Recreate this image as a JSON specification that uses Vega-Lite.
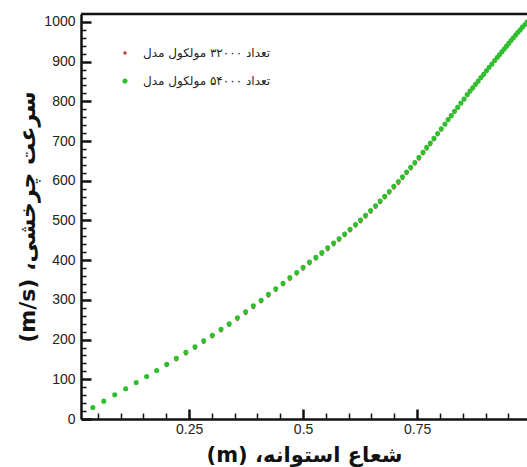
{
  "$schema": "https://vega.github.io/schema/vega-lite/v6.json",
  "width": 446,
  "height": 405,
  "autosize": "none",
  "padding": {"left": 81, "top": 14, "right": 0, "bottom": 48},
  "background": "white",
  "config": {"view": {"stroke": null}},
  "resolve": {"axis": {"y": "independent"}},
  "layer": [
    {
      "data": {"values": [
        {"r":0.039,"a":29,"b":29},{"r":0.063,"a":45,"b":45},{"r":0.087,"a":61,"b":61},{"r":0.111,"a":76,"b":76},
        {"r":0.134,"a":91,"b":92},{"r":0.157,"a":106,"b":107},{"r":0.179,"a":121,"b":122},{"r":0.201,"a":135,"b":138},
        {"r":0.222,"a":149,"b":153},{"r":0.243,"a":164,"b":168},{"r":0.263,"a":178,"b":182},{"r":0.282,"a":193,"b":197},
        {"r":0.301,"a":207,"b":211},{"r":0.320,"a":222,"b":226},{"r":0.338,"a":236,"b":240},{"r":0.356,"a":251,"b":255},
        {"r":0.374,"a":266,"b":270},{"r":0.391,"a":281,"b":285},{"r":0.408,"a":295,"b":299},{"r":0.424,"a":310,"b":314},
        {"r":0.440,"a":324,"b":328},{"r":0.456,"a":338,"b":342},{"r":0.471,"a":352,"b":356},{"r":0.486,"a":365,"b":369},
        {"r":0.500,"a":378,"b":382},{"r":0.514,"a":391,"b":395},{"r":0.528,"a":403,"b":407},{"r":0.541,"a":415,"b":419},
        {"r":0.554,"a":427,"b":431},{"r":0.567,"a":439,"b":443},{"r":0.579,"a":450,"b":454},{"r":0.591,"a":462,"b":466},
        {"r":0.603,"a":474,"b":478},{"r":0.615,"a":486,"b":490},{"r":0.626,"a":497,"b":501},{"r":0.637,"a":509,"b":513},
        {"r":0.648,"a":521,"b":525},{"r":0.659,"a":533,"b":537},{"r":0.669,"a":545,"b":549},{"r":0.679,"a":557,"b":561},
        {"r":0.689,"a":569,"b":573},{"r":0.699,"a":582,"b":586},{"r":0.709,"a":594,"b":598},{"r":0.718,"a":606,"b":610},
        {"r":0.727,"a":618,"b":622},{"r":0.736,"a":630,"b":634},{"r":0.745,"a":642,"b":646},{"r":0.754,"a":655,"b":659},
        {"r":0.763,"a":668,"b":672},{"r":0.771,"a":680,"b":684},{"r":0.779,"a":691,"b":695},{"r":0.787,"a":703,"b":707},
        {"r":0.795,"a":716,"b":719},{"r":0.803,"a":728,"b":731},{"r":0.811,"a":741,"b":743},{"r":0.818,"a":752,"b":754},
        {"r":0.825,"a":762,"b":764},{"r":0.832,"a":773,"b":775},{"r":0.839,"a":783,"b":785},{"r":0.846,"a":794,"b":796},
        {"r":0.853,"a":804,"b":806},{"r":0.860,"a":815,"b":817},{"r":0.866,"a":824,"b":826},{"r":0.872,"a":832,"b":834},
        {"r":0.878,"a":841,"b":843},{"r":0.884,"a":850,"b":851},{"r":0.890,"a":859,"b":860},{"r":0.896,"a":867,"b":868},
        {"r":0.902,"a":876,"b":877},{"r":0.908,"a":885,"b":886},{"r":0.914,"a":893,"b":894},{"r":0.920,"a":902,"b":903},
        {"r":0.926,"a":910,"b":911},{"r":0.931,"a":917,"b":918},{"r":0.936,"a":924,"b":925},{"r":0.941,"a":931,"b":932},
        {"r":0.946,"a":938,"b":939},{"r":0.951,"a":945,"b":946},{"r":0.956,"a":952,"b":953},{"r":0.961,"a":959,"b":960},
        {"r":0.966,"a":966,"b":967},{"r":0.971,"a":973,"b":974},{"r":0.976,"a":980,"b":980},{"r":0.981,"a":986,"b":987},
        {"r":0.986,"a":993,"b":993},{"r":0.991,"a":999,"b":1000}
      ]},
      "transform": [{"fold": ["a", "b"], "as": ["n", "v"]}],
      "mark": {"type": "point", "filled": true, "shape": "circle", "opacity": 1},
      "encoding": {
        "x": {
          "field": "r", "type": "quantitative",
          "scale": {"domain": [0.013, 0.991], "nice": false, "zero": false},
          "axis": {
            "values": [0.05,0.1,0.15,0.2,0.25,0.3,0.35,0.4,0.45,0.5,0.55,0.6,0.65,0.7,0.75,0.8,0.85,0.9,0.95],
            "format": "~g",
            "labelExpr": "(datum.value == 0.25 || datum.value == 0.5 || datum.value == 0.75) ? datum.label : ''",
            "labelOverlap": false, "labelFlush": false,
            "labelFont": "Liberation Sans", "labelFontSize": 14, "labelColor": "#222", "labelPadding": 13,
            "ticks": true,
            "tickSize": {"condition": {"test": "datum.value == 0.25 || datum.value == 0.5 || datum.value == 0.75", "value": -10}, "value": -6},
            "tickWidth": {"condition": {"test": "datum.value == 0.25 || datum.value == 0.5 || datum.value == 0.75", "value": 2.5}, "value": 1.5},
            "tickColor": "#111", "grid": false,
            "domainColor": "#111", "domainWidth": 2.5,
            "title": "(m) ،شعاع استوانه",
            "titleFont": "DejaVu Sans", "titleFontSize": 21, "titleFontWeight": "bold", "titleColor": "#111", "titlePadding": 4
          }
        },
        "y": {
          "field": "v", "type": "quantitative",
          "scale": {"domain": [0, 1020], "nice": false, "zero": false},
          "axis": {
            "values": [0,20,40,60,80,100,120,140,160,180,200,220,240,260,280,300,320,340,360,380,400,420,440,460,480,500,520,540,560,580,600,620,640,660,680,700,720,740,760,780,800,820,840,860,880,900,920,940,960,980,1000],
            "format": "d",
            "labelExpr": "datum.value % 100 == 0 ? datum.label : ''",
            "labelOverlap": false, "labelFlush": false,
            "labelFont": "Liberation Sans", "labelFontSize": 14, "labelColor": "#222", "labelPadding": 16,
            "ticks": true,
            "tickSize": {"condition": {"test": "datum.value % 100 == 0", "value": -10}, "value": -5},
            "tickWidth": {"condition": {"test": "datum.value % 100 == 0", "value": 2.5}, "value": 1.5},
            "tickColor": "#111", "grid": false,
            "domainColor": "#111", "domainWidth": 2.5,
            "title": "(m/s) ،سرعت چرخشی",
            "titleFont": "DejaVu Sans", "titleFontSize": 22, "titleFontWeight": "bold", "titleColor": "#111", "titlePadding": 4
          }
        },
        "color": {
          "field": "n", "type": "nominal",
          "scale": {"domain": ["a", "b"], "range": ["#d03a3a", "#2fbf2f"]},
          "legend": {
            "orient": "none", "legendX": 38, "legendY": 33, "title": null,
            "labelExpr": "datum.value == 'a' ? 'تعداد ۳۲۰۰۰ مولکول مدل' : 'تعداد ۵۴۰۰۰ مولکول مدل'",
            "labelFont": "DejaVu Sans", "labelFontSize": 12, "labelColor": "#222",
            "labelOffset": 12, "rowPadding": 16, "symbolType": "circle"
          }
        },
        "size": {
          "field": "n", "type": "ordinal",
          "scale": {"domain": ["a", "b"], "range": [12, 26]},
          "legend": {
            "orient": "none", "legendX": 38, "legendY": 33, "title": null,
            "labelExpr": "datum.value == 'a' ? 'تعداد ۳۲۰۰۰ مولکول مدل' : 'تعداد ۵۴۰۰۰ مولکول مدل'",
            "labelFont": "DejaVu Sans", "labelFontSize": 12, "labelColor": "#222",
            "labelOffset": 12, "rowPadding": 16, "symbolType": "circle"
          }
        },
        "order": {"field": "n", "type": "nominal"}
      }
    },
    {
      "data": {"values": [{}]},
      "mark": {"type": "rule", "strokeWidth": 2.5, "color": "#111"},
      "encoding": {"y": {"datum": 1020, "type": "quantitative", "axis": null}}
    }
  ]
}
